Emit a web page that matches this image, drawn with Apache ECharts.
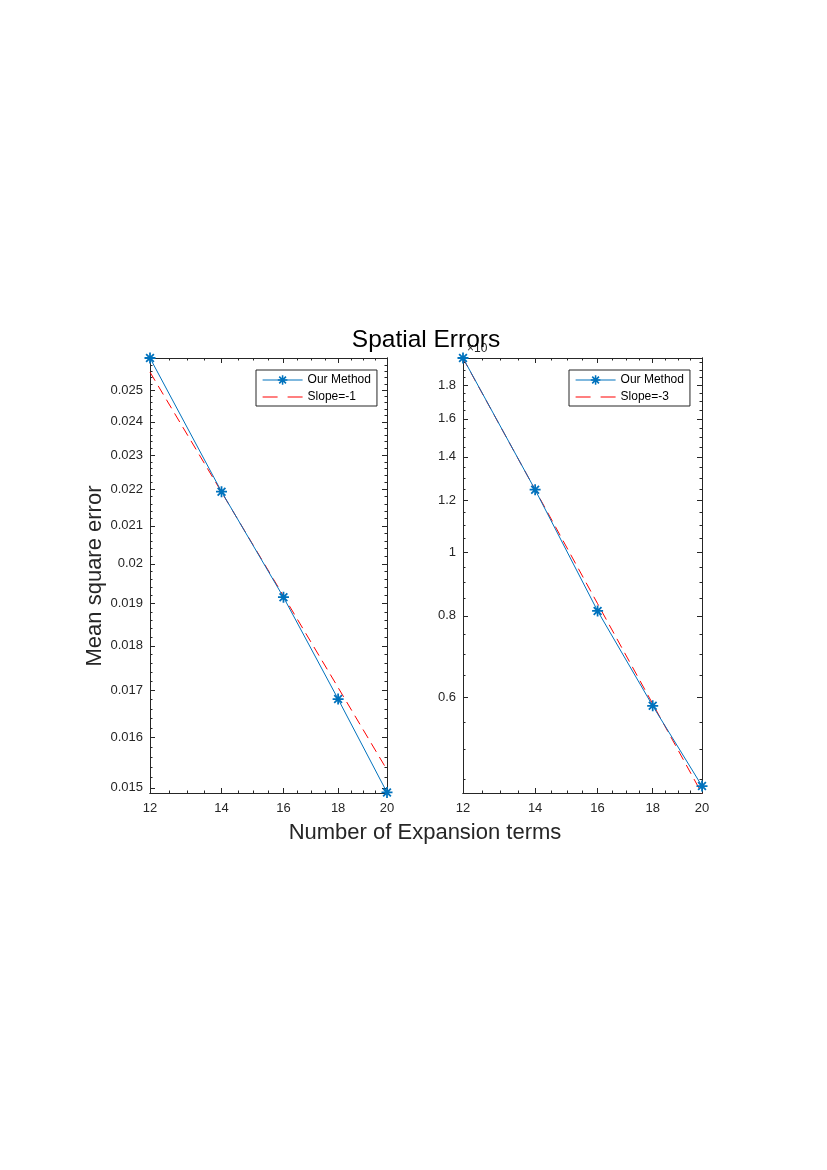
<!doctype html>
<html lang="en">
    <head>
        <meta charset="UTF-8">
        <title>Spatial Errors</title>
        <style>
            html, body { margin: 0; padding: 0; background: #fff; }
            #main { width: 827px; height: 1170px; }
        </style>
    </head>
    <body>
        <div id="main"></div>
        <script src="https://cdn.jsdelivr.net/npm/echarts@6/dist/echarts.min.js"></script>
        <script type="text/javascript">
        // data
        var terms = [12, 14, 16, 18, 20];
        var leftErr = [0.02605, 0.02194, 0.01916, 0.01681, 0.01491];
        var leftSlope = [0.02558, 0.02193, 0.01919, 0.01706, 0.01535];
        var rightErr = [1.982, 1.247, 0.814, 0.583, 0.4396];
        var rightSlope = [1.98, 1.247, 0.835, 0.587, 0.428];

        var xTicks = [12, 14, 16, 18, 20];
        var xMinor = [12.5, 13, 13.5, 14.5, 15, 15.5, 16.5, 17, 17.5, 18.5, 19, 19.5];
        var leftTicks = [0.015, 0.016, 0.017, 0.018, 0.019, 0.02, 0.021, 0.022, 0.023, 0.024, 0.025];
        var leftMinor = [0.0152, 0.0154, 0.0156, 0.0158, 0.0162, 0.0164, 0.0166, 0.0168,
            0.0172, 0.0174, 0.0176, 0.0178, 0.0182, 0.0184, 0.0186, 0.0188,
            0.0192, 0.0194, 0.0196, 0.0198, 0.0202, 0.0204, 0.0206, 0.0208,
            0.0212, 0.0214, 0.0216, 0.0218, 0.0222, 0.0224, 0.0226, 0.0228,
            0.0232, 0.0234, 0.0236, 0.0238, 0.0242, 0.0244, 0.0246, 0.0248,
            0.0252, 0.0254, 0.0256, 0.0258];
        var rightTicks = [0.6, 0.8, 1, 1.2, 1.4, 1.6, 1.8];
        var rightMinor = [0.45, 0.5, 0.55, 0.65, 0.7, 0.75, 0.85, 0.9, 0.95,
            1.05, 1.1, 1.15, 1.25, 1.3, 1.35, 1.45, 1.5, 1.55, 1.65, 1.7, 1.75, 1.85, 1.9, 1.95];

        var axisColor = '#262626';
        var font = 'Liberation Sans, Arial, Helvetica, sans-serif';
        var blue = '#0072BD';
        var red = '#FF0000';
        // asterisk marker like matlab's '*'
        var star = 'path://M8.4 0L11.6 0L11.6 20L8.4 20Z M0 8.4L20 8.4L20 11.6L0 11.6Z ' +
            'M4.1 1.8L18.2 15.9L15.9 18.2L1.8 4.1Z M15.9 1.8L18.2 4.1L4.1 18.2L1.8 15.9Z';

        function fmt(v) {
            return String(parseFloat(v.toPrecision(4)));
        }

        // one axis of the box: major or minor ticks, labels only on the main one
        function makeAxis(grid, pos, min, max, ticks, len, labels) {
            return {
                type: 'log',
                gridIndex: grid,
                position: pos,
                min: min,
                max: max,
                axisLine: { show: true, onZero: false, lineStyle: { color: axisColor, width: 1 } },
                axisTick: { show: true, inside: true, length: len, customValues: ticks,
                    lineStyle: { color: axisColor, width: 1 } },
                axisLabel: labels ? {
                    show: true, customValues: ticks, color: axisColor, fontSize: 13,
                    fontFamily: font, margin: pos === 'bottom' ? 9 : 7, formatter: fmt
                } : { show: false },
                splitLine: { show: false },
                minorTick: { show: false },
                minorSplitLine: { show: false }
            };
        }

        var xAxes = [];
        var yAxes = [];
        [[0.0149, 0.02605, leftTicks, leftMinor], [0.429, 1.982, rightTicks, rightMinor]].forEach(function (g, i) {
            xAxes.push(makeAxis(i, 'bottom', 12, 20, xTicks, 5, true));
            xAxes.push(makeAxis(i, 'bottom', 12, 20, xMinor, 2.5, false));
            xAxes.push(makeAxis(i, 'top', 12, 20, xTicks, 5, false));
            xAxes.push(makeAxis(i, 'top', 12, 20, xMinor, 2.5, false));
            yAxes.push(makeAxis(i, 'left', g[0], g[1], g[2], 5, true));
            yAxes.push(makeAxis(i, 'left', g[0], g[1], g[3], 2.5, false));
            yAxes.push(makeAxis(i, 'right', g[0], g[1], g[2], 5, false));
            yAxes.push(makeAxis(i, 'right', g[0], g[1], g[3], 2.5, false));
        });

        function pairs(ys) {
            return terms.map(function (t, i) { return [t, ys[i]]; });
        }

        function methodSeries(grid, ys) {
            return {
                name: 'Our Method', type: 'line', xAxisIndex: grid * 4, yAxisIndex: grid * 4,
                data: pairs(ys), symbol: star, symbolSize: 11, showSymbol: true,
                lineStyle: { color: blue, width: 1 }, itemStyle: { color: blue },
                z: 3, silent: true, animation: false
            };
        }

        function slopeSeries(grid, name, ys) {
            return {
                name: name, type: 'line', xAxisIndex: grid * 4, yAxisIndex: grid * 4,
                data: pairs(ys), symbol: 'none',
                lineStyle: { color: red, width: 1, type: [10, 6] }, itemStyle: { color: red },
                z: 2, silent: true, animation: false
            };
        }

        function legend(left, slopeName) {
            return {
                left: left, top: 370, orient: 'vertical',
                data: [
                    { name: 'Our Method', itemStyle: { color: blue } },
                    { name: slopeName, itemStyle: { opacity: 0 }, lineStyle: { type: [15, 10] } }
                ],
                itemWidth: 40, itemHeight: 12, itemGap: 5,
                padding: [4, 6, 3, 6],
                borderColor: axisColor, borderWidth: 1,
                backgroundColor: '#fff',
                lineStyle: { width: 1.2 },
                textStyle: { color: '#000', fontSize: 12, fontFamily: font },
                selectedMode: false
            };
        }

        var chart = echarts.init(document.getElementById('main'), null, { renderer: 'canvas' });
        chart.setOption({
            animation: false,
            backgroundColor: '#fff',
            grid: [
                { left: 150, top: 358, width: 237, height: 435 },
                { left: 463, top: 358, width: 239, height: 435 }
            ],
            xAxis: xAxes,
            yAxis: yAxes,
            legend: [
                legend(256, 'Slope=-1'),
                legend(569, 'Slope=-3')
            ],
            series: [
                slopeSeries(0, 'Slope=-1', leftSlope),
                methodSeries(0, leftErr),
                slopeSeries(1, 'Slope=-3', rightSlope),
                methodSeries(1, rightErr)
            ],
            graphic: [
                { type: 'text', left: 467, top: 343, z: 10,
                    style: { text: '×10', fill: axisColor, font: '12px ' + font } },
                { type: 'text', x: 426, y: 340, z: 11,
                    style: { text: 'Spatial Errors', fill: '#000', font: '24.5px ' + font,
                        textAlign: 'center', textVerticalAlign: 'middle' } },
                { type: 'text', x: 425, y: 833, z: 11,
                    style: { text: 'Number of Expansion terms', fill: axisColor, font: '22px ' + font,
                        textAlign: 'center', textVerticalAlign: 'middle' } },
                { type: 'text', x: 95, y: 576, rotation: Math.PI / 2, z: 11,
                    style: { text: 'Mean square error', fill: axisColor, font: '22px ' + font,
                        textAlign: 'center', textVerticalAlign: 'middle' } }
            ]
        });
        </script>
    </body>
</html>
